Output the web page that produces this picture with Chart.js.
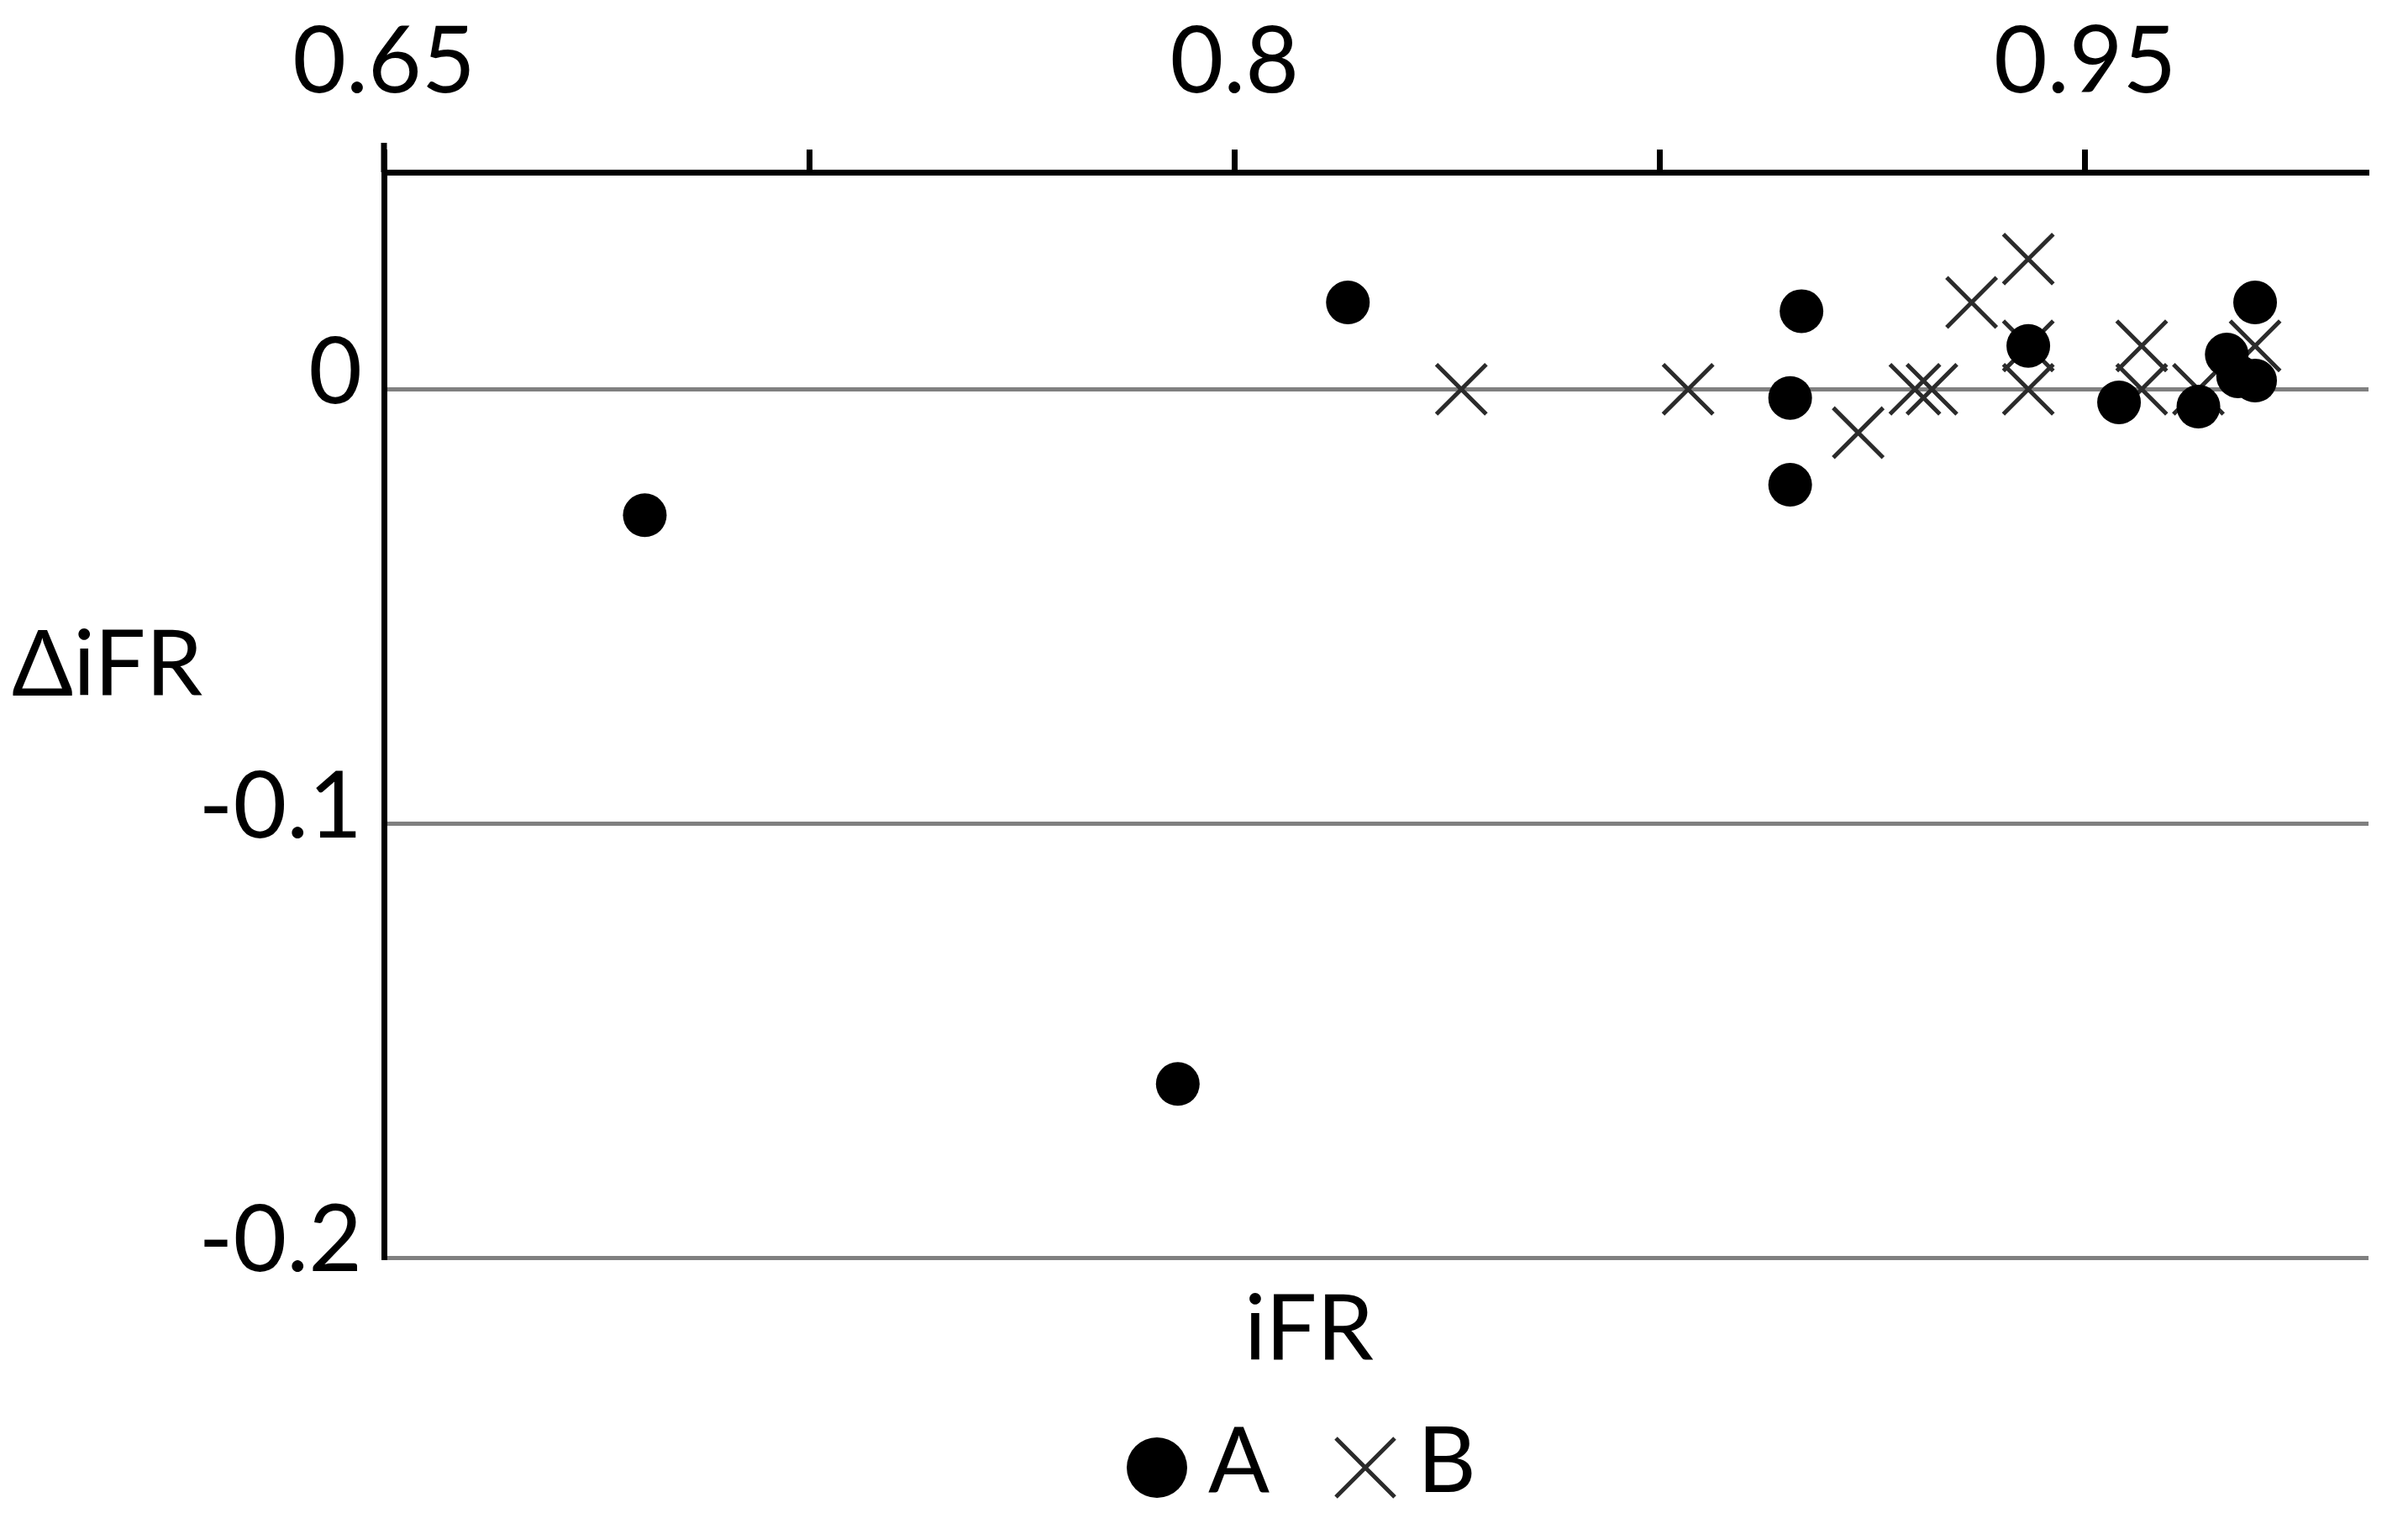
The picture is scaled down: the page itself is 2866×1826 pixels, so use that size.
<!DOCTYPE html>
<html>
<head>
<meta charset="utf-8">
<script src="https://cdn.jsdelivr.net/npm/chart.js@4.4.1/dist/chart.umd.min.js"></script>
<style>
  html, body { margin: 0; padding: 0; background: #fff; }
  #wrap { width: 2866px; height: 1826px; }
</style>
</head>
<body>
<div id="wrap"><canvas id="chart"></canvas></div>
<script>
// ---- data ----
const seriesNames = ['A', 'B'];

const aX = [0.696, 0.790, 0.820, 0.898, 0.898, 0.900, 0.940, 0.956, 0.970, 0.975, 0.977, 0.980, 0.980];
const aY = [-0.029, -0.160, 0.020, -0.022, -0.002, 0.018, 0.010, -0.003, -0.004, 0.008, 0.003, 0.002, 0.020];

const bX = [0.840, 0.880, 0.910, 0.920, 0.923, 0.930, 0.940, 0.940, 0.940, 0.960, 0.960, 0.970, 0.980];
const bY = [0, 0, -0.010, 0, 0, 0.020, 0.030, 0.010, 0, 0.010, 0, 0, 0.010];

const xTicks = [0.65, 0.725, 0.8, 0.875, 0.95];
const xTickLabels = ['0.65', '', '0.8', '', '0.95'];
const yTicks = [-0.2, -0.1, 0];
const yTickLabels = ['-0.2', '-0.1', '0'];

const xTitle = 'iFR';
const yTitle = 'ΔiFR';

const FONT = 'Lato';
const CROSS = '#2b2b2b';

const pts = (xs, ys) => xs.map((x, i) => ({ x, y: ys[i] }));

// axis titles + legend, placed like the original (not centred on the plot area)
const extras = {
  id: 'extras',
  afterDraw(chart) {
    const ctx = chart.ctx;
    const { left, top } = chart.chartArea;
    ctx.save();

    // y axis line runs a little past the top axis
    ctx.fillStyle = '#000';
    ctx.fillRect(left - 3.5, 170, 7, top - 170);

    ctx.font = `108px ${FONT}`;
    ctx.textBaseline = 'alphabetic';
    ctx.textAlign = 'left';
    ctx.fillText(yTitle, 14, 828);
    ctx.textAlign = 'center';
    ctx.fillText(xTitle, 1558, 1619);

    // legend
    const ly = 1747;
    ctx.textAlign = 'left';
    ctx.beginPath();
    ctx.arc(1377, ly, 36, 0, Math.PI * 2);
    ctx.fill();
    ctx.fillText(seriesNames[0], 1438, 1776);

    ctx.strokeStyle = CROSS;
    ctx.lineWidth = 5;
    ctx.beginPath();
    ctx.moveTo(1590, ly - 35); ctx.lineTo(1660, ly + 35);
    ctx.moveTo(1660, ly - 35); ctx.lineTo(1590, ly + 35);
    ctx.stroke();
    ctx.fillText(seriesNames[1], 1687, 1776);
    ctx.restore();
  }
};

new Chart(document.getElementById('chart'), {
  type: 'scatter',
  data: {
    datasets: [
      {
        label: seriesNames[0],
        data: pts(aX, aY),
        pointStyle: 'circle',
        pointRadius: 26,
        pointHoverRadius: 26,
        backgroundColor: '#000',
        borderWidth: 0,
      },
      {
        label: seriesNames[1],
        data: pts(bX, bY),
        pointStyle: 'crossRot',
        pointRadius: 42,
        pointHoverRadius: 42,
        borderColor: CROSS,
        backgroundColor: CROSS,
        borderWidth: 5,
      }
    ]
  },
  options: {
    responsive: true, maintainAspectRatio: false,
    animation: false,
    layout: { padding: { left: 200, top: 5, right: 31, bottom: 329 } },
    plugins: {
      tooltip: { enabled: false },
      legend: { display: false }
    },
    scales: {
      x: {
        type: 'linear',
        position: 'top',
        min: 0.65, max: 1.0,
        afterBuildTicks: s => { s.ticks = xTicks.map(v => ({ value: v })); },
        afterFit: s => { s.height = 200; s.paddingLeft = 0; s.paddingRight = 0; },
        ticks: {
          callback: (v, i) => xTickLabels[i],
          color: '#000',
          padding: 37,
          maxRotation: 0,
          autoSkip: false,
          font: { family: FONT, size: 110 }
        },
        grid: {
          drawOnChartArea: false,
          drawTicks: true,
          tickLength: 27,
          tickWidth: 7,
          tickColor: '#000',
          color: '#000'
        },
        border: { display: true, color: '#000', width: 7 }
      },
      y: {
        type: 'linear',
        min: -0.2, max: 0.05,
        afterBuildTicks: s => { s.ticks = yTicks.map(v => ({ value: v })); },
        afterFit: s => { s.width = 257; },
        ticks: {
          callback: (v, i) => yTickLabels[i],
          color: '#000',
          padding: 26,
          labelOffset: -19,
          font: { family: FONT, size: 110 }
        },
        grid: {
          drawTicks: false,
          color: '#808080',
          lineWidth: 5
        },
        border: { display: true, color: '#000', width: 7 }
      }
    }
  },
  plugins: [extras]
});
</script>
</body>
</html>
